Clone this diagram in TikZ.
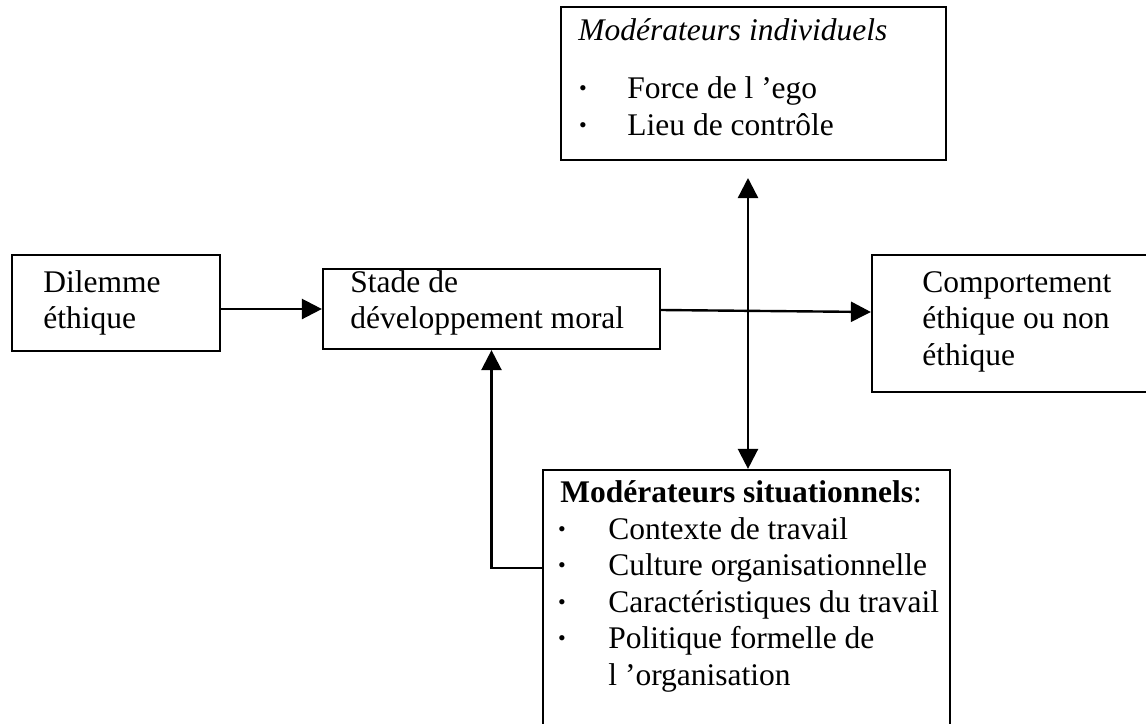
\documentclass[tikz,border=0pt]{standalone}
\usepackage{fontspec}
\setmainfont{Liberation Serif}
\usetikzlibrary{arrows.meta,fit}

\begin{document}
\begin{tikzpicture}[x=0.5pt, y=-0.5pt,
    box/.style = {draw, line width=1.1pt, inner sep=0pt},
    txt/.style = {anchor=base west, inner sep=0pt, font=\fontsize{15.75}{18}\selectfont},
    puce/.style = {anchor=center, inner sep=0pt, font=\fontsize{11}{11}\selectfont},
    fleche/.style = {line width=1.2pt, -{Triangle[length=10pt,width=10pt]}},
    dfleche/.style = {line width=1.2pt, {Triangle[length=10pt,width=10pt]}-{Triangle[length=10pt,width=10pt]}}]
  \useasboundingbox (0,0) rectangle (1146,723);
  \clip (0,0) rectangle (1146,723);

  % les boites
  \node [box, fit={(561,7) (946,160)}] (indiv) {};
  \node [box, fit={(12,255) (220,351)}] (dilemme) {};
  \node [box, fit={(323,269) (660,349)}] (stade) {};
  \node [box, fit={(872,255) (1170,392)}] (comport) {};
  \node [box, fit={(543,470) (950,760)}] (situ) {};

  % les textes
  \node [txt] at (578,40) {\itshape Modérateurs individuels};
  \node [puce] at (583,91) {\textbullet};
  \node [txt] at (627,98) {Force de l ’ego};
  \node [puce] at (583,128) {\textbullet};
  \node [txt] at (627,135) {Lieu de contrôle};

  \node [txt] at (43,292) {Dilemme};
  \node [txt] at (43,328) {éthique};

  \node [txt] at (350,292) {Stade de};
  \node [txt] at (350,328) {développement moral};

  \node [txt] at (922,292) {Comportement};
  \node [txt] at (922,328) {éthique ou non};
  \node [txt] at (922,365) {éthique};

  \node [txt] at (560,502) {\bfseries Modérateurs situationnels\mdseries:};
  \node [puce] at (562,532) {\textbullet};
  \node [txt] at (608,539) {Contexte de travail};
  \node [puce] at (562,568) {\textbullet};
  \node [txt] at (608,575) {Culture organisationnelle};
  \node [puce] at (562,605) {\textbullet};
  \node [txt] at (608,612) {Caractéristiques du travail};
  \node [puce] at (562,641) {\textbullet};
  \node [txt] at (608,648) {Politique formelle de};
  \node [txt] at (608,685) {l ’organisation};

  % les fleches
  \coordinate (haut) at (748,178);
  \draw [fleche] (dilemme.east |- 0,309) -- (stade.west |- 0,309);
  \draw [fleche] (stade.east |- 0,310) -- (comport.west |- 0,312);
  \draw [dfleche] (haut) -- (situ.north -| haut);
  \draw [fleche] (situ.west |- 0,568) -| (stade.south);
\end{tikzpicture}
\end{document}
